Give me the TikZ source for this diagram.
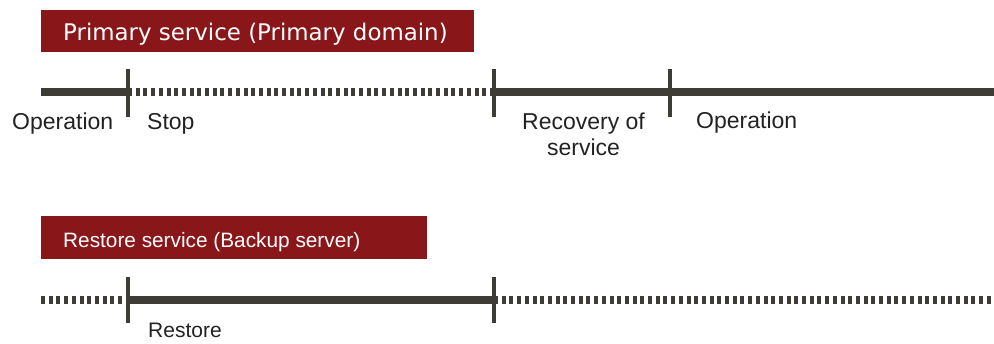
\documentclass[tikz,border=0pt]{standalone}
\usepackage{fontspec}
\setmainfont{Liberation Sans}
\newfontfamily\widefont{DejaVu Sans}
\definecolor{boxred}{RGB}{137,23,25}
\definecolor{linec}{RGB}{61,61,53}
\definecolor{txt}{RGB}{34,34,34}
\begin{document}
\begin{tikzpicture}[x=1pt,y=-1pt,
  tl/.style={line width=8.5pt,draw=linec},
  dotl/.style={line width=8.5pt,draw=linec,dash pattern=on 4pt off 3.7pt},
  tickmark/.style={line width=4.5pt,draw=linec},
  lbl/.style={anchor=base west,inner sep=0pt,font=\fontsize{23}{25.5}\selectfont,text=txt},
  hdrbox/.style={fill=boxred,draw=none,inner sep=0pt,anchor=north west},
  hdrtxt/.style={anchor=base west,inner sep=0pt,text=white}]
\useasboundingbox (0,0) rectangle (994,343);
% header boxes
\node[hdrbox,minimum width=433pt,minimum height=42pt] (h1) at (41,10) {};
\node[hdrtxt,font=\widefont\fontsize{22.9}{26}\selectfont] (h1t) at (63,40) {Primary service (Primary domain)};
\node[hdrbox,minimum width=386pt,minimum height=43pt] (h2) at (41,216) {};
\node[hdrtxt,font=\fontsize{20.8}{24}\selectfont] (h2t) at (63,247) {Restore service (Backup server)};
% top timeline
\coordinate (a0) at (41,92);
\coordinate (a1) at (128,92);
\coordinate (a2) at (494,92);
\coordinate (a3) at (670,92);
\coordinate (a4) at (994,92);
\draw[tl] (a0) -- (a1);
\draw[dotl] (a1) -- (a2);
\draw[tl] (a2) -- (a4);
\coordinate (t1a) at (128,69); \coordinate (t1b) at (128,117);
\coordinate (t2a) at (494,69); \coordinate (t2b) at (494,117);
\coordinate (t3a) at (670,69); \coordinate (t3b) at (670,117);
\draw[tickmark] (t1a) -- (t1b);
\draw[tickmark] (t2a) -- (t2b);
\draw[tickmark] (t3a) -- (t3b);
% top labels
\node[lbl] (op1) at (12,129) {Operation};
\node[lbl] (stop) at (147,129) {Stop};
\node[lbl,anchor=base,align=center] (rec) at (583.5,155) {Recovery of\\service};
\node[lbl] (op2) at (696,128.5) {Operation};
% bottom timeline
\coordinate (b0) at (41,300);
\coordinate (b1) at (128,300);
\coordinate (b2) at (494,300);
\coordinate (b3) at (994,300);
\draw[dotl] (b0) -- (b1);
\draw[tl] (b1) -- (b2);
\draw[dotl] (b2) -- (b3);
\coordinate (u1a) at (128,277); \coordinate (u1b) at (128,323);
\coordinate (u2a) at (494,277); \coordinate (u2b) at (494,323);
\draw[tickmark] (u1a) -- (u1b);
\draw[tickmark] (u2a) -- (u2b);
\node[lbl,font=\fontsize{21}{24}\selectfont] (rest) at (148,337) {Restore};
\end{tikzpicture}
\end{document}
